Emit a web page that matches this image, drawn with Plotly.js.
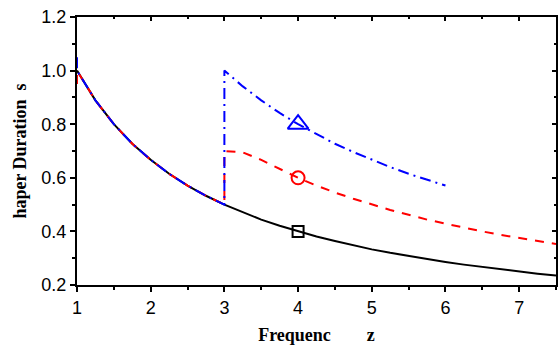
<!DOCTYPE html>
<html>
<head>
<meta charset="utf-8">
<script src="https://cdn.plot.ly/plotly-3.0.1.min.js"></script>
<style>html,body{margin:0;padding:0;background:#fff;}#chart{width:560px;height:349px;}</style>
</head>
<body>
<div id="chart"></div>
<script>
// Black (solid) curve
const blackX = [1, 1.25, 1.5, 1.75, 2, 2.25, 2.5, 2.75, 3, 3.25, 3.5, 3.75, 4, 4.25, 4.5, 4.75, 5, 5.25, 5.5, 5.75, 6, 6.25, 6.5, 6.75, 7, 7.25, 7.5];
const blackY = [1.0, 0.889, 0.80, 0.727, 0.667, 0.615, 0.571, 0.533, 0.50, 0.471, 0.444, 0.421, 0.40, 0.381, 0.364, 0.348, 0.333, 0.32, 0.308, 0.296, 0.286, 0.276, 0.267, 0.258, 0.25, 0.242, 0.235];
// Red (dashed) curve
const redX = [1, 1, 1.25, 1.5, 1.75, 2, 2.25, 2.5, 2.75, 3, 3, 3.25, 3.5, 3.75, 4, 4.25, 4.5, 4.75, 5, 5.25, 5.5, 5.75, 6, 6.25, 6.5, 6.75, 7, 7.25, 7.5];
const redY = [0.95, 1.0, 0.889, 0.80, 0.727, 0.667, 0.615, 0.571, 0.533, 0.50, 0.70, 0.695, 0.667, 0.632, 0.60, 0.571, 0.545, 0.522, 0.50, 0.48, 0.462, 0.444, 0.429, 0.414, 0.40, 0.387, 0.375, 0.364, 0.353];
// Blue (dash-dot) curve
const blueX = [1, 1, 1.25, 1.5, 1.75, 2, 2.25, 2.5, 2.75, 3, 3, 3.25, 3.5, 3.75, 4, 4.25, 4.5, 4.75, 5, 5.25, 5.5, 5.75, 6];
const blueY = [1.05, 1.0, 0.889, 0.80, 0.727, 0.667, 0.615, 0.571, 0.533, 0.50, 1.0, 0.941, 0.889, 0.842, 0.80, 0.762, 0.727, 0.696, 0.667, 0.64, 0.615, 0.593, 0.571];
// Marker points
const squareX = [4], squareY = [0.40];
const circleX = [4], circleY = [0.60];
const triX = [4], triY = [0.80];
// Axis ticks
const xTicks = [1, 2, 3, 4, 5, 6, 7];
const yTicks = [0.2, 0.4, 0.6, 0.8, 1.0, 1.2];
const yTickText = ['0.2', '0.4', '0.6', '0.8', '1.0', '1.2'];

function seg(x, y, color, dash) {
  return {x: x, y: y, type: 'scatter', mode: 'lines', line: {color: color, width: 2, dash: dash, shape: 'linear'},
    hoverinfo: 'skip', showlegend: false};
}

const traces = [
  seg(blackX, blackY, '#000000', 'solid'),
  seg(redX, redY, '#ff0000', '9px,8px'),
  seg(blueX, blueY, '#0000ff', '11px,5px,2px,5px'),
  {x: squareX, y: squareY, type: 'scatter', mode: 'markers', showlegend: false,
   marker: {symbol: 'square-open', size: 11, color: '#000000', line: {width: 2, color: '#000000'}}},
  {x: circleX, y: circleY, type: 'scatter', mode: 'markers', showlegend: false,
   marker: {symbol: 'circle-open', size: 13, color: '#ff0000', line: {width: 2, color: '#ff0000'}}},
  {x: triX, y: triY, type: 'scatter', mode: 'markers', showlegend: false,
   marker: {symbol: 'triangle-up-open', size: 18, color: '#0000ff', line: {width: 2, color: '#0000ff'}}},
  {x: [1], y: [0.2], xaxis: 'x2', yaxis: 'y2', type: 'scatter', mode: 'markers', marker: {opacity: 0}, showlegend: false, hoverinfo: 'skip'}
];

const tickFont = {family: 'Liberation Sans, Arial, sans-serif', size: 18, color: '#000'};
const titleFont = {family: 'Liberation Serif, Times New Roman, serif', size: 18, color: '#000'};
const layout = {
  width: 560, height: 349,
  margin: {l: 77, r: 4, t: 17, b: 64},
  paper_bgcolor: '#fff', plot_bgcolor: '#fff',
  showlegend: false,
  xaxis: {
    range: [1, 7.5], tickvals: xTicks, ticktext: xTicks.map(String),
    ticks: 'outside', ticklen: 5, tickwidth: 2, tickcolor: '#000',
    minor: {dtick: 0.5, ticks: 'outside', ticklen: 3, tickwidth: 2, tickcolor: '#000', showgrid: false},
    showline: true, linewidth: 2, linecolor: '#000', showgrid: false, zeroline: false,
    tickfont: tickFont,
    title: {text: '<b>Frequenc\u00a0\u00a0\u00a0\u00a0\u00a0\u00a0\u00a0\u00a0z</b>', font: titleFont, standoff: 12}
  },
  yaxis: {
    range: [0.2, 1.2], tickvals: yTicks, ticktext: yTickText,
    ticks: 'outside', ticklen: 5, tickwidth: 2, tickcolor: '#000',
    minor: {dtick: 0.1, ticks: 'outside', ticklen: 3, tickwidth: 2, tickcolor: '#000', showgrid: false},
    showline: true, linewidth: 2, linecolor: '#000', showgrid: false, zeroline: false,
    tickfont: tickFont,
    title: {text: '<b>haper Duration\u00a0\u00a0s</b>', font: titleFont, standoff: 10}
  },
  xaxis2: {
    overlaying: 'x', side: 'top', range: [1, 7.5], tickvals: xTicks, showticklabels: false,
    ticks: 'inside', ticklen: 4, tickwidth: 2, tickcolor: '#000',
    minor: {dtick: 0.5, ticks: 'inside', ticklen: 2, tickwidth: 2, tickcolor: '#000', showgrid: false},
    showline: true, linewidth: 2, linecolor: '#000', showgrid: false, zeroline: false
  },
  yaxis2: {
    overlaying: 'y', side: 'right', range: [0.2, 1.2], tickvals: yTicks, showticklabels: false,
    ticks: 'inside', ticklen: 4, tickwidth: 2, tickcolor: '#000',
    minor: {dtick: 0.1, ticks: 'inside', ticklen: 2, tickwidth: 2, tickcolor: '#000', showgrid: false},
    showline: true, linewidth: 2, linecolor: '#000', showgrid: false, zeroline: false
  }
};

Plotly.newPlot('chart', traces, layout, {staticPlot: true, displayModeBar: false});
</script>
</body>
</html>
